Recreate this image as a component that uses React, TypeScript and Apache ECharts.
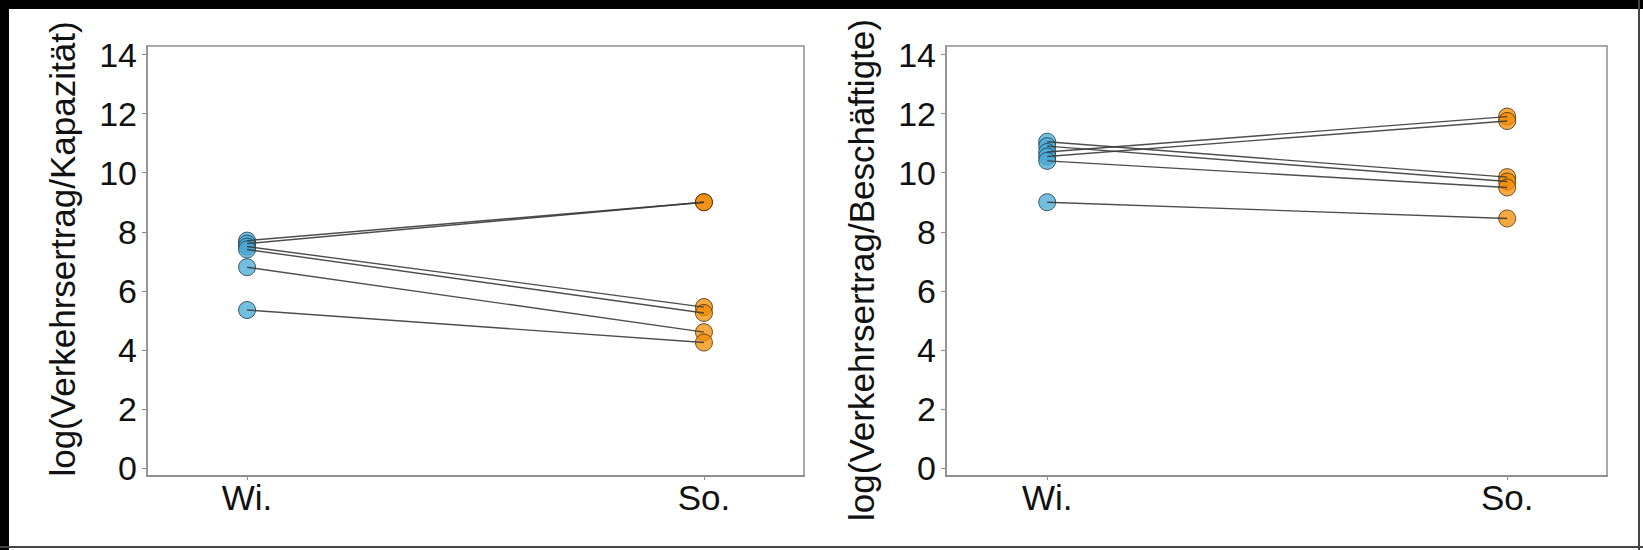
import React, { useEffect, useRef } from "react";
import * as echarts from "echarts";

const categories = ["Wi.", "So."];
const yTicks = [0, 2, 4, 6, 8, 10, 12, 14];
const kapWi = [7.7, 7.6, 7.5, 7.4, 6.8, 5.35];
const kapSo = [9.0, 9.0, 5.45, 5.25, 4.6, 4.25];
const besWi = [11.05, 10.9, 10.7, 10.55, 10.4, 9.0];
const besSo = [9.85, 9.7, 11.9, 11.75, 9.5, 8.45];
const yNames = ["log(Verkehrsertrag/Kapazität)", "log(Verkehrsertrag/Beschäftigte)"];

const FONT = "'Liberation Sans', Arial, sans-serif";
const AXIS_GRAY = "#8f8f8f";

function xAxisFor(idx: number, min: number, max: number) {
  return {
    type: "value",
    gridIndex: idx,
    min,
    max,
    axisLine: { show: true, onZero: false, lineStyle: { color: AXIS_GRAY, width: 2 } },
    axisTick: { show: true, length: 4, customValues: [0, 1], lineStyle: { color: AXIS_GRAY } },
    axisLabel: {
      customValues: [0, 1],
      formatter: (v: number) => categories[Math.round(v)] ?? "",
      fontSize: 35,
      fontFamily: FONT,
      color: "#111",
      margin: 4,
    },
    splitLine: { show: false },
  };
}

function yAxisFor(idx: number) {
  return {
    type: "value",
    gridIndex: idx,
    min: -0.27,
    max: 14.29,
    axisLine: { show: true, onZero: false, lineStyle: { color: AXIS_GRAY, width: 1.5 } },
    axisTick: { show: true, length: 5, customValues: yTicks, lineStyle: { color: AXIS_GRAY } },
    axisLabel: {
      customValues: yTicks,
      fontSize: 34,
      fontFamily: FONT,
      color: "#111",
      margin: 10,
    },
    splitLine: { show: false },
  };
}

function pairSeries(idx: number, wi: number[], so: number[]) {
  const lines = {
    type: "lines",
    coordinateSystem: "cartesian2d",
    xAxisIndex: idx,
    yAxisIndex: idx,
    z: 5,
    lineStyle: { color: "#3a3a3a", width: 1.4, opacity: 0.9 },
    data: wi.map((w, i) => ({ coords: [[0, w], [1, so[i]]] })),
  };
  const wiPts = {
    type: "scatter",
    xAxisIndex: idx,
    yAxisIndex: idx,
    symbolSize: 17,
    z: 3,
    itemStyle: { color: "rgba(72,170,214,0.95)", borderColor: "#1f3b48", borderWidth: 1 },
    data: wi.map((w) => [0, w]),
  };
  const soPts = {
    type: "scatter",
    xAxisIndex: idx,
    yAxisIndex: idx,
    symbolSize: 17,
    z: 3,
    itemStyle: { color: "rgba(243,140,5,0.95)", borderColor: "#4a2a05", borderWidth: 1 },
    data: so.map((s) => [1, s]),
  };
  return [wiPts, soPts, lines];
}

export default function App() {
  const ref = useRef<HTMLDivElement>(null);
  useEffect(() => {
    document.body.style.margin = "0";
    if (!ref.current) return;
    const chart = echarts.init(ref.current, null, { renderer: "svg" });
    chart.setOption({
      animation: false,
      backgroundColor: "#ffffff",
      grid: [
        { left: 147, right: 1643 - 804, top: 46, bottom: 550 - 476, show: true, borderColor: AXIS_GRAY, borderWidth: 1.5 },
        { left: 946, right: 1643 - 1607, top: 46, bottom: 550 - 476, show: true, borderColor: AXIS_GRAY, borderWidth: 1.5 },
      ],
      xAxis: [xAxisFor(0, -0.219, 1.219), xAxisFor(1, -0.22, 1.217)],
      yAxis: [yAxisFor(0), yAxisFor(1)],
      series: [...pairSeries(0, kapWi, kapSo), ...pairSeries(1, besWi, besSo)],
      graphic: [
        { type: "rect", shape: { x: 0, y: 0, width: 1643, height: 9 }, style: { fill: "#000" }, z: 100 },
        { type: "rect", shape: { x: 0, y: 0, width: 9, height: 550 }, style: { fill: "#000" }, z: 100 },
        { type: "rect", shape: { x: 1638, y: 0, width: 2, height: 550 }, style: { fill: "#444" }, z: 100 },
        { type: "rect", shape: { x: 0, y: 546, width: 1643, height: 2 }, style: { fill: "#444" }, z: 100 },
        {
          type: "text",
          x: 62,
          y: 249,
          rotation: Math.PI / 2,
          style: { text: yNames[0], fontSize: 35, fontFamily: FONT, fill: "#111", align: "center", verticalAlign: "middle" },
        },
        {
          type: "text",
          x: 861,
          y: 270,
          rotation: Math.PI / 2,
          style: { text: yNames[1], fontSize: 35, fontFamily: FONT, fill: "#111", align: "center", verticalAlign: "middle" },
        },
      ],
    });
    return () => chart.dispose();
  }, []);
  return <div ref={ref} style={{ width: 1643, height: 550 }} />;
}
